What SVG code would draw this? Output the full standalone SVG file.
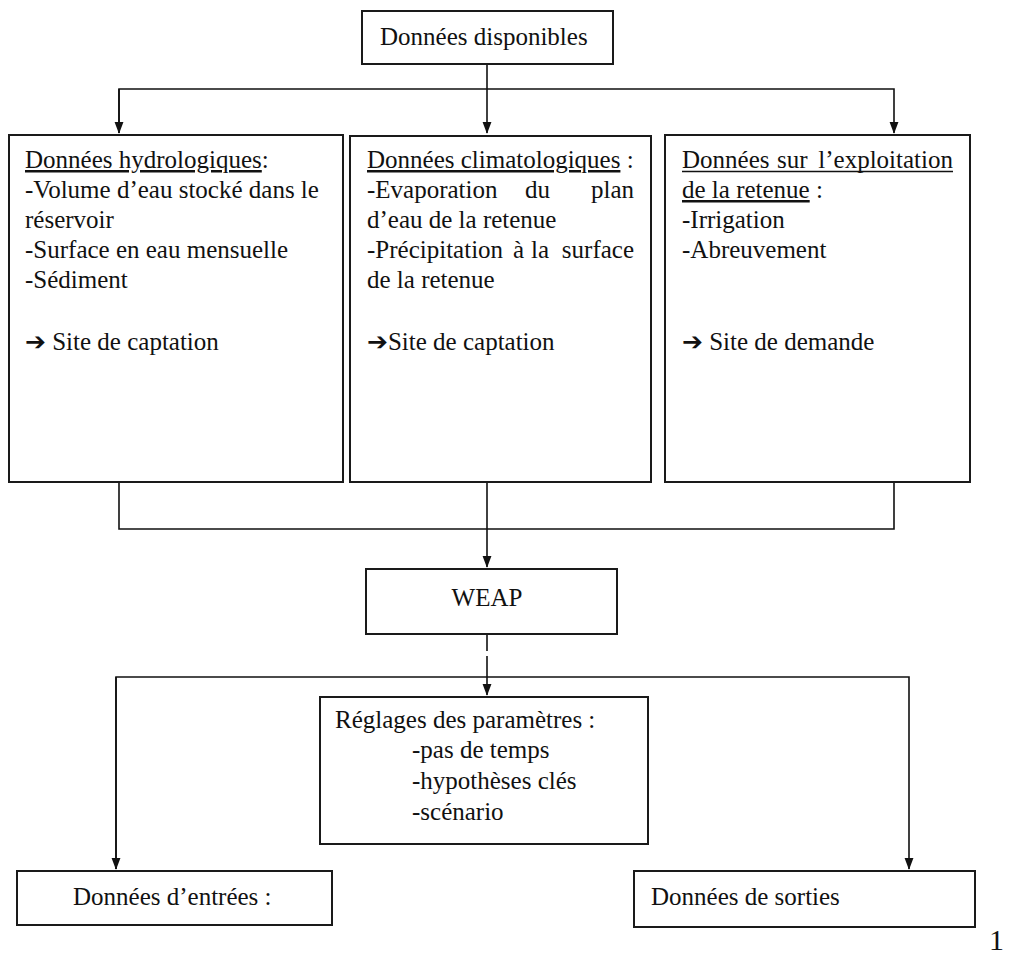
<svg xmlns="http://www.w3.org/2000/svg" width="1009" height="954" viewBox="0 0 1009 954">
<style>
.box{fill:#fff;stroke:#1a1a1a;stroke-width:2}
.t{font-family:"Liberation Serif","Times New Roman",serif;font-size:25px;fill:#111}
.u{text-decoration:underline}
.ar{font-family:"DejaVu Sans",sans-serif;font-size:25px;font-weight:bold}
.c{fill:none;stroke:#111;stroke-width:1.6}
.ul{stroke:#111;stroke-width:1.3}
</style>
<defs>
<marker id="a" markerWidth="12" markerHeight="16" refX="15" refY="6" orient="auto" markerUnits="userSpaceOnUse" viewBox="0 0 16 12">
<path d="M0,0 L16,6 L0,12 Z" fill="#111"/>
</marker>
</defs>
<rect width="1009" height="954" fill="#fff"/>

<g id="connectors">
<path class="c" d="M487,64 V133" marker-end="url(#a)"/>
<path class="c" d="M119,133 V89 H894 V133" marker-end="url(#a)"/>
<path class="c" d="M119,89 V133" marker-end="url(#a)"/>
<path class="c" d="M119,482 V529 H894 V482"/>
<path class="c" d="M487,482 V567" marker-end="url(#a)"/>
<path class="c" d="M487,634 V651"/>
<path class="c" d="M487,656 V695" marker-end="url(#a)"/>
<path class="c" d="M116,869 V677 H909 V869" marker-end="url(#a)"/>
<path class="c" d="M116,677 V869" marker-end="url(#a)"/>
</g>

<g id="n-disponibles">
<rect class="box" x="362" y="11" width="251" height="53"/>
<text class="t" x="380" y="45">Données disponibles</text>
</g>

<g id="n-hydro">
<rect class="box" x="9" y="135" width="334" height="347"/>
<text class="t" x="25" y="168"><tspan class="u">Données hydrologiques</tspan>:</text>
<text class="t" x="25" y="198">-Volume d’eau stocké dans le</text>
<text class="t" x="25" y="228">réservoir</text>
<text class="t" x="25" y="258">-Surface en eau mensuelle</text>
<text class="t" x="25" y="288">-Sédiment</text>
<text class="t" x="25" y="350"><tspan class="ar">➔</tspan> Site de captation</text>
</g>

<g id="n-clima">
<rect class="box" x="350" y="136" width="301" height="346"/>
<text class="t" x="367" y="168"><tspan class="u">Données climatologiques</tspan> :</text>
<text class="t" x="367" y="198">-Evaporation</text>
<text class="t" x="525" y="198">du</text>
<text class="t" x="634" y="198" text-anchor="end">plan</text>
<text class="t" x="367" y="228">d’eau de la retenue</text>
<text class="t" x="367" y="258">-Précipitation</text>
<text class="t" x="513" y="258">à</text>
<text class="t" x="531" y="258">la</text>
<text class="t" x="634" y="258" text-anchor="end">surface</text>
<text class="t" x="367" y="288">de la retenue</text>
<text class="t" x="367" y="350"><tspan class="ar">➔</tspan>Site de captation</text>
</g>

<g id="n-exploit">
<rect class="box" x="665" y="135" width="305" height="347"/>
<text class="t" x="682" y="168">Données</text>
<text class="t" x="777" y="168">sur</text>
<text class="t" x="953" y="168" text-anchor="end">l’exploitation</text>
<line class="ul" x1="682" y1="171.5" x2="953" y2="171.5"/>
<text class="t" x="682" y="198"><tspan class="u">de la retenue</tspan> :</text>
<text class="t" x="682" y="228">-Irrigation</text>
<text class="t" x="682" y="258">-Abreuvement</text>
<text class="t" x="682" y="350"><tspan class="ar">➔</tspan> Site de demande</text>
</g>

<g id="n-weap">
<rect class="box" x="366" y="569" width="251" height="65"/>
<text class="t" x="487" y="606" text-anchor="middle">WEAP</text>
</g>

<g id="n-reglages">
<rect class="box" x="320" y="697" width="328" height="147"/>
<text class="t" x="335" y="728">Réglages des paramètres :</text>
<text class="t" x="412" y="758">-pas de temps</text>
<text class="t" x="412" y="789">-hypothèses clés</text>
<text class="t" x="412" y="820">-scénario</text>
</g>

<g id="n-entrees">
<rect class="box" x="17" y="871" width="315" height="54"/>
<text class="t" x="73" y="905">Données d’entrées :</text>
</g>

<g id="n-sorties">
<rect class="box" x="634" y="871" width="341" height="56"/>
<text class="t" x="651" y="905">Données de sorties</text>
</g>

<text class="t" x="989" y="950" style="font-size:30px">1</text>
</svg>
